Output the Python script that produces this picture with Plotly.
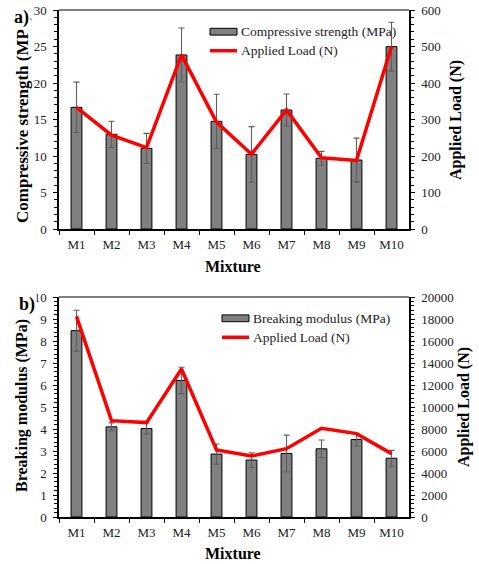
import plotly.graph_objects as go

mixtures = ["M1", "M2", "M3", "M4", "M5", "M6", "M7", "M8", "M9", "M10"]

comp_strength = [16.67, 12.97, 11.05, 23.84, 14.75, 10.23, 16.3, 9.68, 9.45, 24.98]
comp_err = [3.45, 1.8, 2.05, 3.7, 3.7, 3.8, 2.2, 0.95, 3.0, 3.35]
comp_load = [333, 257, 223, 477, 293, 205, 326, 195, 188, 500]

break_mod = [8.47, 4.1, 4.02, 6.21, 2.86, 2.59, 2.89, 3.1, 3.52, 2.67]
break_err = [0.93, 0.18, 0.25, 0.6, 0.46, 0.33, 0.83, 0.4, 0.29, 0.36]
break_load = [18240, 8760, 8580, 13450, 6090, 5545, 6210, 8060, 7580, 5760]

W, H = 479, 564
FONT = "Liberation Serif"


def px(x):
    return x / W


def py(y):
    return 1 - y / H


X0, X1 = 59, 409
TOP = (10, 229)
BOT = (297, 517)

fig = go.Figure()

bar_style = dict(marker=dict(color="#808080", line=dict(color="#000000", width=1)), width=0.31,
                 showlegend=False)
err_style = dict(type="data", visible=True, color="#5e5e5e", thickness=1.1, width=3)
line_style = dict(mode="lines", line=dict(color="#ff0000", width=3.5), showlegend=False)

fig.add_trace(go.Bar(x=mixtures, y=comp_strength, error_y=dict(array=comp_err, **err_style),
                     xaxis="x", yaxis="y", **bar_style))
fig.add_trace(go.Scatter(x=mixtures, y=comp_load, xaxis="x", yaxis="y2", **line_style))
fig.add_trace(go.Bar(x=mixtures, y=break_mod, error_y=dict(array=break_err, **err_style),
                     xaxis="x2", yaxis="y3", **bar_style))
fig.add_trace(go.Scatter(x=mixtures, y=break_load, xaxis="x2", yaxis="y4", **line_style))

tickfont = dict(family=FONT, size=13, color="#222222")


def yax(rng, dtick, mdtick, dom, side="left", overlay=None, anchor="x"):
    d = dict(range=rng, dtick=dtick, domain=dom, side=side, anchor=anchor, automargin=False,
             showgrid=False, zeroline=False, showline=True, linecolor="#000000", linewidth=1.5,
             ticks="outside", ticklen=4, tickwidth=1.2, tickcolor="#000000",
             tickfont=tickfont, ticklabelstandoff=4, tickformat="d",
             minor=dict(ticks="outside", ticklen=3, dtick=mdtick, tickcolor="#000000", tickwidth=1))
    if overlay:
        d["overlaying"] = overlay
    return d


def inner(rng, dtick, dom, side, overlay, anchor):
    # inside half of the crossing major ticks
    return dict(range=rng, dtick=dtick, domain=dom, side=side, anchor=anchor, overlaying=overlay,
                automargin=False, showgrid=False, zeroline=False, showline=False,
                ticks="inside", ticklen=3, tickwidth=1.2, tickcolor="#000000",
                showticklabels=False)


def xax(dom, anchor):
    return dict(type="category", domain=dom, anchor=anchor, range=[-0.5, 9.5], automargin=False,
                tickson="boundaries", ticks="outside", ticklen=4, tickwidth=1.2, tickcolor="#000000",
                showline=True, linecolor="#000000", linewidth=1.5, showgrid=False,
                tickfont=tickfont, ticklabelstandoff=3)


xdom = [px(X0), px(X1)]
topdom = [py(TOP[1]), py(TOP[0])]
botdom = [py(BOT[1]), py(BOT[0])]

fig.update_layout(
    width=W, height=H, margin=dict(l=0, r=0, t=0, b=0, autoexpand=False),
    paper_bgcolor="white", plot_bgcolor="white",
    barmode="overlay", showlegend=False,
    font=dict(family=FONT, size=13, color="#000000"),
    xaxis=xax(xdom, "y"),
    yaxis=yax([0, 30], 5, 1, topdom, anchor="x"),
    yaxis2=yax([0, 600], 100, 20, topdom, side="right", overlay="y", anchor="x"),
    xaxis2=xax(xdom, "y3"),
    yaxis3=yax([0, 10], 1, 0.2, botdom, anchor="x2"),
    yaxis4=yax([0, 20000], 2000, 400, botdom, side="right", overlay="y3", anchor="x2"),
    yaxis5=inner([0, 30], 5, topdom, "left", "y", "x"),
    yaxis6=inner([0, 600], 100, topdom, "right", "y", "x"),
    yaxis7=inner([0, 10], 1, botdom, "left", "y3", "x2"),
    yaxis8=inner([0, 20000], 2000, botdom, "right", "y3", "x2"),
)

shapes = []
annotations = []

# top border lines (gray)
for top in (TOP[0], BOT[0]):
    shapes.append(dict(type="line", xref="paper", yref="paper", x0=px(X0), x1=px(X1),
                       y0=py(top), y1=py(top), line=dict(color="#808080", width=2)))


def title(text, x, y, angle=0, size=16):
    annotations.append(dict(text="<b>%s</b>" % text, xref="paper", yref="paper", x=px(x), y=py(y),
                            xanchor="center", yanchor="middle", showarrow=False, textangle=angle,
                            font=dict(family=FONT, size=size, color="#000000")))


title("Compressive strength (MPa)", 22, 119, -90, 17)
title("Applied Load (N)", 456, 120, -90, 16)
title("Mixture", 233, 266, 0, 16)
title("Breaking modulus (MPa)", 22, 406, -90, 16)
title("Applied Load (N)", 464, 407, -90, 16)
title("Mixture", 233, 553, 0, 16)

# panel labels with white background
for lab, x, y in (("a)", 21.5, 17.5), ("b)", 26.5, 304)):
    annotations.append(dict(text="<b>%s</b>" % lab, xref="paper", yref="paper", x=px(x), y=py(y),
                            xanchor="center", yanchor="middle", showarrow=False, bgcolor="white",
                            borderpad=1, font=dict(family=FONT, size=18, color="#000000")))

# custom legends
legends = [
    ("Compressive strength (MPa)", 210, 237, 31.7, 50.7),
    ("Breaking modulus (MPa)", 222, 249, 318.3, 337.3),
]
for lab, lx0, lx1, ybox, yline in legends:
    shapes.append(dict(type="rect", xref="paper", yref="paper", x0=px(lx0), x1=px(lx1),
                       y0=py(ybox + 3.4), y1=py(ybox - 3.4), fillcolor="#808080",
                       line=dict(color="#000000", width=1)))
    shapes.append(dict(type="line", xref="paper", yref="paper", x0=px(lx0), x1=px(lx1),
                       y0=py(yline), y1=py(yline), line=dict(color="#ff0000", width=3.5)))
    annotations.append(dict(text=lab, xref="paper", yref="paper", x=px(lx1 + 1.5), y=py(ybox),
                            xanchor="left", yanchor="middle", showarrow=False,
                            font=dict(family=FONT, size=13.5, color="#222222")))
    annotations.append(dict(text="Applied Load (N)", xref="paper", yref="paper", x=px(lx1 + 1.5),
                            y=py(yline), xanchor="left", yanchor="middle", showarrow=False,
                            font=dict(family=FONT, size=13.5, color="#222222")))

fig.update_layout(shapes=shapes, annotations=annotations)

fig.write_html(
    "out.html",
    config={"displayModeBar": False},
    post_script="document.body.style.margin='0';document.body.style.overflow='hidden';",
)
